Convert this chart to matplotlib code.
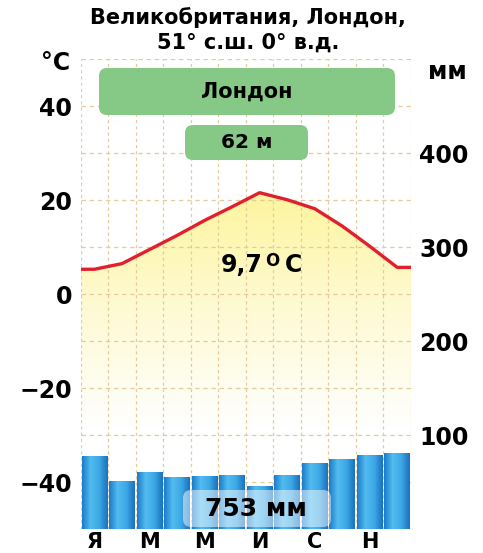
import numpy as np
import matplotlib.pyplot as plt
from matplotlib.colors import LinearSegmentedColormap
from matplotlib.patches import FancyBboxPatch

plt.rcParams['font.family'] = ['DejaVu Sans']
plt.rcParams['font.weight'] = 'bold'

# data
months = ['Я', '', 'М', '', 'М', '', 'И', '', 'С', '', 'Н', '']
temp_c = [5.3, 6.5, 9.5, 12.5, 15.7, 18.6, 21.6, 20.1, 18.2, 14.5, 10.2, 5.7]
precip_mm = [78, 51, 61, 55, 56, 58, 46, 57, 70, 75, 79, 81]
title = "Великобритания, Лондон,\n51° с.ш. 0° в.д."
city = "Лондон"
height_label = "62 м"
mean_temp_label = "9,7"
total_precip_label = "753 мм"

W, H = 483, 553
fig = plt.figure(figsize=(W / 100, H / 100), dpi=100)
ax = fig.add_axes([80.7 / W, 1 - 529 / H, 330.3 / W, 469.7 / H])
ax.set_xlim(0, 12)
ax.set_ylim(-50, 50)

grid_col = '#e3cb9e'
for x in range(13):
    ax.axvline(x, color=grid_col, lw=0.9, ls=(0, (2.5, 2.5)), zorder=2)
for y in range(-50, 51, 10):
    ax.axhline(y, color=grid_col, lw=0.9, ls=(0, (3.5, 3)), zorder=2)

# temperature line, extended flat to the edges
centers = np.arange(12) + 0.5
tx = np.concatenate([[0], centers, [12]])
ty = np.concatenate([[temp_c[0]], temp_c, [temp_c[-1]]])

# yellow gradient under the line
ymax = max(temp_c)
grad = np.linspace(0, 1, 256).reshape(-1, 1)
cmap = LinearSegmentedColormap.from_list('yl', [(0, '#ffffff'), (0.3, '#ffffff'), (0.65, '#fefad4'), (1, '#fdf59e')])
img = ax.imshow(grad, extent=(0, 12, -50, ymax), origin='lower', aspect='auto', cmap=cmap, zorder=1)
poly = ax.fill_between(tx, ty, -50, color='none', lw=0)
img.set_clip_path(poly.get_paths()[0], transform=ax.transData)

ax.plot(tx, ty, color='#e1202b', lw=2.4, zorder=4, solid_joinstyle='round')

# precipitation bars on the mm axis
ax2 = ax.twinx()
ax2.set_ylim(0, 500)
bar_cmap = LinearSegmentedColormap.from_list('bl', ['#1c7cca', '#52bcef', '#3ca8e5', '#1b71c0'])
bars = ax2.bar(centers, precip_mm, width=0.93, color='none', zorder=3)
bgrad = np.linspace(0, 1, 64).reshape(1, -1)
for b in bars:
    x0, w, h = b.get_x(), b.get_width(), b.get_height()
    im = ax2.imshow(bgrad, extent=(x0, x0 + w, 0, h), aspect='auto', cmap=bar_cmap, zorder=3)
    im.set_clip_path(b)
ax2.set_xlim(0, 12)

for a in (ax, ax2):
    for s in a.spines.values():
        s.set_visible(False)

ax.set_yticks([-40, -20, 0, 20, 40])
ax.set_yticklabels(['−40', '−20', '0', '20', '40'])
ax2.set_yticks([100, 200, 300, 400])
ax.set_xticks(centers)
ax.set_xticklabels(months)
ax.tick_params(axis='y', length=0, pad=6, labelsize=17)
ax2.tick_params(axis='y', length=0, pad=6, labelsize=17)
ax.tick_params(axis='x', length=0, pad=2, labelsize=15)

# overlay in pixel units for labels and boxes
ov = fig.add_axes([0, 0, 1, 1], zorder=10)
ov.set_xlim(0, W)
ov.set_ylim(H, 0)
ov.axis('off')
ov.patch.set_alpha(0)


def box(x0, y0, x1, y1, fc, alpha=1.0):
    ov.add_patch(FancyBboxPatch((x0, y0), x1 - x0, y1 - y0,
                                boxstyle='round,pad=0,rounding_size=8',
                                fc=fc, ec='none', alpha=alpha))


box(99, 68, 395, 115, '#86c987')
ov.text(247, 92, city, ha='center', va='center', fontsize=15)
box(185, 125, 308, 160, '#86c987')
ov.text(246.5, 143, height_label, ha='center', va='center', fontsize=14.5)
box(183, 490, 331, 527, '#ffffff', alpha=0.5)
ov.text(256, 509, total_precip_label, ha='center', va='center', fontsize=18)

ov.text(221, 272.5, mean_temp_label, ha='left', va='baseline', fontsize=17)
ov.text(265, 266, 'O', ha='left', va='baseline', fontsize=12)
ov.text(285, 272.5, 'C', ha='left', va='baseline', fontsize=17)

ov.text(248, 30, title, ha='center', va='center', fontsize=15, linespacing=1.25)
ov.text(56, 63, '°C', ha='center', va='center', fontsize=17)
ov.text(447, 72, 'мм', ha='center', va='center', fontsize=17)

fig.savefig('out.png', dpi=100)
